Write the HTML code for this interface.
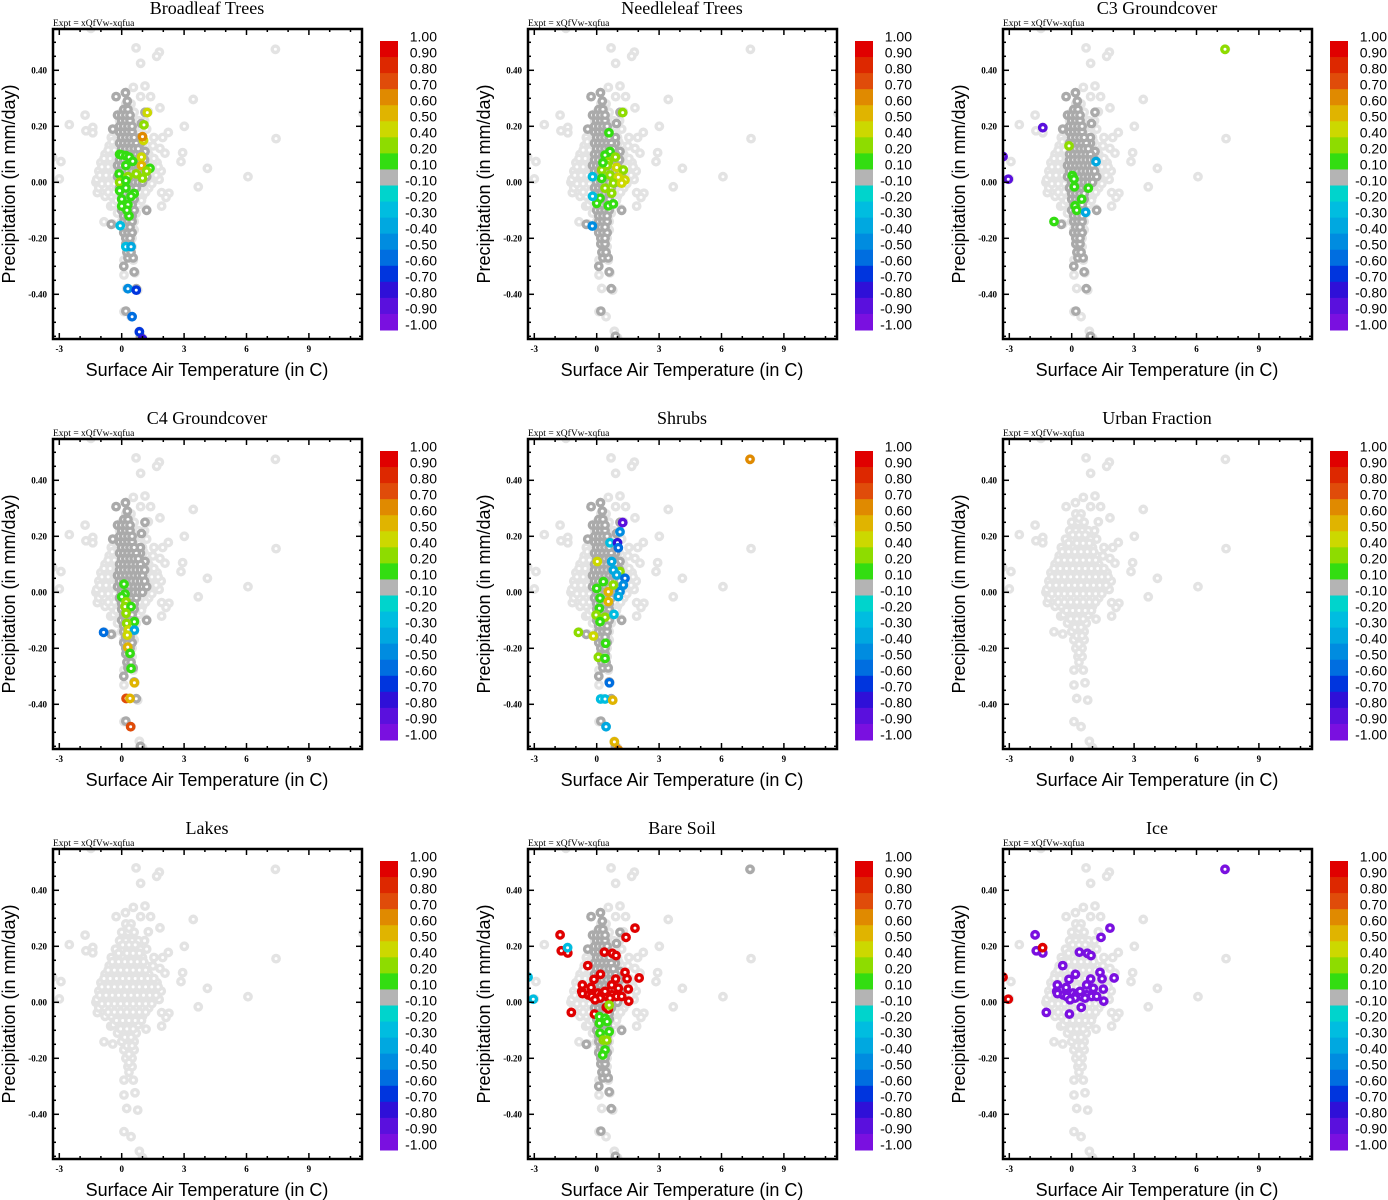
<!DOCTYPE html>
<html><head><meta charset="utf-8"><title>Vegetation fraction correlation scatter panels</title>
<style>
html,body{margin:0;padding:0;background:#fff;}
svg{display:block;}
.ttl{font-family:"Liberation Serif",serif;font-size:18px;}
.expt{font-family:"Liberation Serif",serif;font-size:9.5px;}
.tick{font-family:"Liberation Serif",serif;font-size:9px;font-weight:bold;}
.axt{font-family:"Liberation Sans",sans-serif;font-size:18px;}
.cbl{font-family:"Liberation Sans",sans-serif;font-size:14px;}
</style></head>
<body>
<svg id="fig" width="1388" height="1200" viewBox="0 0 1388 1200" xmlns="http://www.w3.org/2000/svg"></svg>
<script>
// ---- data ----
const panelTitles = ["Broadleaf Trees","Needleleaf Trees","C3 Groundcover","C4 Groundcover","Shrubs","Urban Fraction","Lakes","Bare Soil","Ice"];
const panelShowDark = [true,true,true,true,true,false,false,true,false];
const xTicks = [-3,0,3,6,9];
const yTicks = [0.40,0.20,0.00,-0.20,-0.40];
const cbLabels = [1.00,0.90,0.80,0.70,0.60,0.50,0.40,0.20,0.10,-0.10,-0.20,-0.30,-0.40,-0.50,-0.60,-0.70,-0.80,-0.90,-1.00];
const cbColors = ['#e00000','#dd2800','#e04c0a','#e08a00','#e0b400','#ccd800','#8edc00','#33dd11','#b4b4b4','#00d4cc','#00bde0','#00a8e0','#008ce0','#006ee0','#0035de','#2f10d8','#5a10dd','#7a10e0'];

// light-gray points (all grid cells) [temp, precip]
const lightPts = [
[0.69,0.48],[1.81,0.465],[1.68,0.45],[0.91,0.425],[7.39,0.475],[3.44,0.296],[1.12,0.344],[0.56,0.339],[0.18,0.32],[-0.27,0.306],[0.91,0.306],[1.39,0.306],
[-1.76,0.24],[-2.52,0.206],[-1.72,0.184],[-1.39,0.196],[-1.39,0.177],[3.01,0.2],[1.84,0.266],[1.28,0.252],[2.24,0.178],[1.97,0.16],[1.55,0.16],[1.84,0.121],
[2.08,0.104],[2.93,0.106],[2.85,0.074],[4.12,0.05],[6.07,0.02],[3.68,-0.016],[7.42,0.156],[-2.92,0.074],[-3.0,0.012],[-3.32,0.09],[1.92,-0.037],[2.27,-0.039],
[2.13,-0.054],[1.92,-0.085],[1.17,-0.096],[-0.53,-0.085],[-0.85,-0.141],[-0.43,-0.149],[-1.24,0.0],[-1.17,-0.037],[-0.88,0.074],[-1.04,0.038],[0.11,-0.278],
[0.56,-0.278],[0.64,-0.323],[0.11,-0.331],[0.24,-0.379],[0.77,-0.385],[0.11,-0.462],[0.45,-0.48],[0.85,-0.532],[1.0,-0.555],[-1.48,0.55],[11.6,0.247],
[0.2,0.28],[0.45,0.28],[0.0,0.25],[0.3,0.25],[0.6,0.25],[-0.1,0.22],[0.2,0.22],[0.5,0.22],[0.8,0.22],[1.1,0.22],
[-0.3,0.19],[0.0,0.19],[0.3,0.19],[0.6,0.19],[0.9,0.19],[1.2,0.19],[-0.5,0.16],[-0.2,0.16],[0.1,0.16],[0.4,0.16],[0.7,0.16],[1.0,0.16],
[-0.6,0.13],[-0.3,0.13],[0.0,0.13],[0.3,0.13],[0.6,0.13],[0.9,0.13],[1.2,0.13],[1.5,0.13],
[-0.8,0.10],[-0.5,0.10],[-0.2,0.10],[0.1,0.10],[0.4,0.10],[0.7,0.10],[1.0,0.10],[1.3,0.10],
[-1.0,0.07],[-0.7,0.07],[-0.4,0.07],[-0.1,0.07],[0.2,0.07],[0.5,0.07],[0.8,0.07],[1.1,0.07],[1.4,0.07],[1.7,0.07],
[-1.1,0.04],[-0.8,0.04],[-0.5,0.04],[-0.2,0.04],[0.1,0.04],[0.4,0.04],[0.7,0.04],[1.0,0.04],[1.3,0.04],[1.6,0.04],[1.9,0.04],
[-1.2,0.01],[-0.9,0.01],[-0.6,0.01],[-0.3,0.01],[0.0,0.01],[0.3,0.01],[0.6,0.01],[0.9,0.01],[1.2,0.01],[1.5,0.01],[1.8,0.01],
[-1.1,-0.02],[-0.8,-0.02],[-0.5,-0.02],[-0.2,-0.02],[0.1,-0.02],[0.4,-0.02],[0.7,-0.02],[1.0,-0.02],[1.3,-0.02],
[-0.8,-0.05],[-0.5,-0.05],[-0.2,-0.05],[0.1,-0.05],[0.4,-0.05],[0.7,-0.05],[1.0,-0.05],
[-0.4,-0.08],[-0.1,-0.08],[0.2,-0.08],[0.5,-0.08],[0.8,-0.08],[-0.2,-0.11],[0.1,-0.11],[0.4,-0.11],[0.7,-0.11],
[0.0,-0.14],[0.3,-0.14],[0.6,-0.14],[0.1,-0.17],[0.4,-0.17],[0.6,-0.17],[0.2,-0.20],[0.5,-0.20],[0.3,-0.23],[0.5,-0.23],[0.35,-0.25],
[0.35,0.265],[0.05,0.205],[0.35,0.205],[0.65,0.205],[-0.15,0.175],[0.25,0.175],[0.55,0.175],[0.85,0.175],[-0.45,0.145],[-0.15,0.145],[0.15,0.145],[0.45,0.145],[0.75,0.145],[1.05,0.145],
[-0.65,0.115],[-0.35,0.115],[-0.05,0.115],[0.25,0.115],[0.55,0.115],[0.85,0.115],[1.15,0.115],[-0.85,0.085],[-0.55,0.085],[-0.25,0.085],[0.05,0.085],[0.35,0.085],[0.65,0.085],[0.95,0.085],[1.25,0.085],[1.55,0.085],
[-0.95,0.055],[-0.65,0.055],[-0.35,0.055],[-0.05,0.055],[0.25,0.055],[0.55,0.055],[0.85,0.055],[1.15,0.055],[1.45,0.055],[1.75,0.055],
[-1.05,0.025],[-0.75,0.025],[-0.45,0.025],[-0.15,0.025],[0.15,0.025],[0.45,0.025],[0.75,0.025],[1.05,0.025],[1.35,0.025],[1.65,0.025],
[-0.95,-0.005],[-0.65,-0.005],[-0.35,-0.005],[-0.05,-0.005],[0.25,-0.005],[0.55,-0.005],[0.85,-0.005],[1.15,-0.005],[1.45,-0.005],
[-0.65,-0.035],[-0.35,-0.035],[-0.05,-0.035],[0.25,-0.035],[0.55,-0.035],[0.85,-0.035],[1.15,-0.035],
[-0.25,-0.065],[0.05,-0.065],[0.35,-0.065],[0.65,-0.065],[0.95,-0.065],[-0.05,-0.095],[0.25,-0.095],[0.55,-0.095],[0.15,-0.125],[0.45,-0.125],[0.25,-0.155],[0.5,-0.155],[0.35,-0.185],[0.35,-0.215]
];
// dark-gray points (|value| < 0.1) [temp, precip]
const darkPts = [
[0.18,0.32],[-0.27,0.306],[0.27,0.29],[1.12,0.25],[-0.2,0.24],[-0.43,0.19],[0.95,0.21],[0.9,0.14],[0.9,0.16],[1.12,0.11],[0.35,0.24],[1.08,0.03],
[-0.5,-0.15],[1.2,-0.1],[0.7,-0.38],[0.2,-0.46],[0.9,-0.55],[0.3,-0.27],[0.55,-0.27],[0.1,-0.3],[0.6,-0.32],
[0.1,0.26],[0.3,0.26],[0.0,0.22],[0.2,0.22],[0.4,0.22],[-0.1,0.18],[0.1,0.18],[0.3,0.18],[0.5,0.18],
[-0.1,0.14],[0.1,0.14],[0.3,0.14],[0.5,0.14],[0.7,0.14],[-0.1,0.10],[0.1,0.10],[0.3,0.10],[0.5,0.10],[0.7,0.10],[0.9,0.10],
[-0.2,0.06],[0.0,0.06],[0.2,0.06],[0.4,0.06],[0.6,0.06],[0.8,0.06],[1.0,0.06],
[-0.2,0.02],[0.0,0.02],[0.2,0.02],[0.4,0.02],[0.6,0.02],[0.8,0.02],[1.0,0.02],[1.2,0.02],
[-0.1,-0.02],[0.1,-0.02],[0.3,-0.02],[0.5,-0.02],[0.7,-0.02],[0.0,-0.06],[0.2,-0.06],[0.4,-0.06],[0.6,-0.06],
[0.0,-0.10],[0.2,-0.10],[0.4,-0.10],[0.6,-0.10],[0.1,-0.14],[0.3,-0.14],[0.5,-0.14],[0.1,-0.18],[0.3,-0.18],[0.5,-0.18],
[0.2,-0.22],[0.4,-0.22],[0.25,-0.25],[0.45,-0.25],
[0.0,0.24],[0.2,0.24],[0.4,0.24],[-0.1,0.20],[0.1,0.20],[0.3,0.20],[0.5,0.20],[0.0,0.16],[0.2,0.16],[0.4,0.16],[0.6,0.16],
[0.0,0.12],[0.2,0.12],[0.4,0.12],[0.6,0.12],[0.8,0.12],[-0.1,0.08],[0.1,0.08],[0.3,0.08],[0.5,0.08],[0.7,0.08],[0.9,0.08],[1.1,0.08],
[-0.1,0.04],[0.1,0.04],[0.3,0.04],[0.5,0.04],[0.7,0.04],[0.9,0.04],[1.1,0.04],[0.0,0.0],[0.2,0.0],[0.4,0.0],[0.6,0.0],[0.8,0.0],[1.0,0.0],
[0.0,-0.04],[0.2,-0.04],[0.4,-0.04],[0.6,-0.04],[0.1,-0.08],[0.3,-0.08],[0.5,-0.08],[0.1,-0.12],[0.3,-0.12],[0.5,-0.12],[0.2,-0.16],[0.4,-0.16],[0.2,-0.20],[0.4,-0.20]
];
// coloured points per panel [temp, precip, value]
const broadleafPts = [
[1.23,0.249,0.45],[1.07,0.205,0.3],[1.05,0.15,0.45],[1.0,0.163,0.65],[0.95,0.09,0.45],[0.95,0.06,0.55],[1.36,0.05,0.15],
[-0.1,0.1,0.15],[0.0,0.098,0.15],[0.2,0.095,0.15],[0.36,0.09,0.15],[0.53,0.075,0.15],[0.2,0.06,0.15],
[-0.12,0.03,0.15],[0.3,0.02,0.3],[0.7,0.03,0.3],[1.0,0.015,0.3],[1.2,0.04,0.3],[-0.1,0.0,0.3],[0.2,0.006,0.15],
[-0.1,-0.03,0.15],[0.2,-0.02,0.15],[0.6,-0.04,0.15],[0.0,-0.06,0.15],[0.45,-0.05,0.15],[0.0,-0.085,0.15],[0.3,-0.08,0.15],
[0.35,-0.12,0.15],[0.25,-0.10,0.15],
[-0.07,-0.155,-0.25],[0.2,-0.23,-0.25],[0.45,-0.23,-0.3],[0.3,-0.38,-0.45],[0.7,-0.385,-0.65],[0.5,-0.48,-0.55],[0.85,-0.534,-0.65],[1.0,-0.56,-0.75]
];
const needleleafPts = [
[1.25,0.249,0.3],[0.59,0.177,0.15],[0.64,0.11,0.15],[0.4,0.097,0.15],[0.56,0.073,0.3],[0.96,0.053,0.45],[1.28,0.044,0.3],[0.24,0.044,0.3],
[0.64,0.026,0.3],[1.04,0.018,0.45],[1.36,0.008,0.45],[0.24,0.014,0.15],[0.8,-0.003,0.3],[1.2,-0.003,0.45],[0.4,-0.021,0.3],[0.72,-0.039,0.3],
[0.16,-0.057,0.15],[0.0,-0.075,0.15],[0.56,-0.084,0.15],[0.8,-0.077,0.15],[0.5,0.06,0.3],[0.9,0.09,0.3],[0.3,0.07,0.15],
[-0.2,0.02,-0.25],[-0.2,-0.05,-0.25],[-0.21,-0.156,-0.45]
];
const c3Pts = [
[7.37,0.475,0.3],[-1.39,0.195,-0.85],[-3.3,0.092,-0.85],[-3.05,0.011,-0.85],[-0.13,0.13,0.3],[1.17,0.074,-0.3],
[0.03,0.024,0.15],[0.11,0.012,0.15],[0.13,-0.016,0.15],[0.8,-0.021,0.15],[0.48,-0.06,0.15],[0.16,-0.084,0.15],[0.24,-0.1,0.15],
[0.67,-0.107,-0.3],[-0.85,-0.14,0.15]
];
const c4Pts = [
[0.11,0.029,0.15],[0.16,-0.006,0.15],[0.0,-0.016,0.15],[0.21,-0.034,0.3],[0.16,-0.051,0.3],[0.45,-0.051,0.15],[0.21,-0.075,0.3],
[0.61,-0.105,0.15],[0.24,-0.111,0.3],[0.32,-0.135,0.45],[0.61,-0.135,-0.35],[-0.87,-0.143,-0.55],[0.27,-0.153,0.45],[0.29,-0.196,0.55],
[0.4,-0.218,0.15],[0.45,-0.272,0.15],[0.61,-0.323,0.55],[0.21,-0.379,0.75],[0.4,-0.379,0.55],[0.43,-0.48,0.75]
];
const shrubsPts = [
[7.37,0.475,0.65],[1.25,0.249,-0.85],[1.12,0.216,-0.45],[0.64,0.177,-0.25],[1.0,0.177,-0.75],[1.04,0.159,-0.55],[0.03,0.11,0.45],[0.72,0.11,-0.3],
[1.12,0.074,0.3],[0.8,0.079,-0.3],[0.96,0.062,-0.35],[1.36,0.05,-0.55],[1.28,0.026,-0.45],[1.12,0.003,-0.45],[1.04,-0.015,-0.35],
[0.32,0.038,0.15],[0.0,0.014,0.15],[0.56,0.002,0.55],[0.16,-0.021,0.15],[0.56,-0.033,0.55],[0.8,0.026,0.3],[0.13,-0.057,0.15],
[-0.03,-0.081,0.3],[0.4,-0.089,0.3],[0.16,-0.105,0.15],[0.83,-0.079,-0.25],[-0.88,-0.143,0.3],[-0.16,-0.156,0.45],[0.43,-0.182,0.15],
[0.08,-0.232,0.3],[0.4,-0.236,0.15],[0.61,-0.323,-0.55],[0.19,-0.381,-0.25],[0.4,-0.381,-0.25],[0.77,-0.385,0.55],[0.45,-0.48,-0.35],
[0.85,-0.534,0.55],[1.04,-0.563,0.65]
];
const urbanPts = [];
const lakesPts = [];
const bareSoilPts = [
[-1.76,0.241,0.95],[-1.7,0.184,0.95],[-1.39,0.176,0.95],[-1.4,0.195,-0.25],[-3.3,0.09,-0.25],[-3.05,0.011,-0.25],
[1.84,0.265,0.95],[1.41,0.232,0.95],[0.37,0.179,0.95],[0.75,0.175,0.95],[0.93,0.167,0.95],[-0.43,0.131,0.95],[1.36,0.107,0.95],
[2.04,0.087,0.95],[1.46,0.084,0.95],[0.18,0.1,0.95],[-0.13,0.082,0.95],[0.91,0.083,0.95],[-0.69,0.062,0.95],[0.72,0.062,0.95],
[-0.27,0.053,0.95],[1.04,0.05,0.95],[1.52,0.047,0.95],[-0.72,0.039,0.95],[-0.68,0.031,0.95],[-0.4,0.026,0.95],[-0.13,0.024,0.95],
[-0.11,-0.042,0.95],[-1.22,-0.036,0.95],[0.46,-0.018,0.95],[1.54,0.004,0.95],[0.06,0.033,0.95],[0.24,0.027,0.95],[0.48,0.021,0.95],
[0.72,0.027,0.95],[0.96,0.021,0.95],[0.16,0.015,0.95],[0.4,0.039,0.95],[0.64,0.015,0.95],[1.2,0.021,0.95],[-0.24,0.021,0.95],
[-0.08,0.009,0.95],[0.56,-0.024,0.95],
[0.13,-0.051,0.15],[0.4,-0.057,0.15],[0.5,-0.069,0.15],[0.13,-0.075,0.15],[0.16,-0.11,0.15],[0.6,-0.105,0.15],[0.32,-0.135,0.3],
[0.48,-0.135,0.3],[0.4,-0.17,0.15],[0.29,-0.188,0.15],[0.6,-0.01,0.3]
];
const icePts = [
[7.37,0.475,-0.95],[-1.76,0.241,-0.95],[-1.7,0.184,-0.95],[-1.39,0.176,-0.95],[-1.4,0.195,0.95],[-3.3,0.09,0.95],[-3.05,0.011,0.95],
[1.84,0.265,-0.95],[1.41,0.232,-0.95],[0.37,0.179,-0.95],[0.75,0.175,-0.95],[0.93,0.167,-0.95],[-0.43,0.131,-0.95],[1.36,0.107,-0.95],
[2.04,0.087,-0.95],[1.46,0.084,-0.95],[0.18,0.1,-0.95],[-0.13,0.082,-0.95],[0.91,0.083,-0.95],[-0.69,0.062,-0.95],[0.72,0.062,-0.95],
[-0.27,0.053,-0.95],[1.04,0.05,-0.95],[1.52,0.047,-0.95],[-0.72,0.039,-0.95],[-0.68,0.031,-0.95],[-0.4,0.026,-0.95],[-0.13,0.024,-0.95],
[-0.11,-0.042,-0.95],[-1.22,-0.036,-0.95],[0.46,-0.018,-0.95],[1.54,0.004,-0.95],[0.06,0.033,-0.95],[0.24,0.027,-0.95],[0.48,0.021,-0.95],
[0.72,0.027,-0.95],[0.96,0.021,-0.95],[0.16,0.015,-0.95],[0.4,0.039,-0.95],[0.64,0.015,-0.95],[1.2,0.021,-0.95],[-0.24,0.021,-0.95],
[-0.08,0.009,-0.95]
];
const panelPts = [broadleafPts,needleleafPts,c3Pts,c4Pts,shrubsPts,urbanPts,lakesPts,bareSoilPts,icePts];

// ---- drawing ----
const NS = "http://www.w3.org/2000/svg";
const fig = document.getElementById('fig');
const PL = 53, PR = 362, PT = 29, PB = 339;
const MR = 3.2, MW = 3.4;
function xS(t){ return 121.7 + 20.8*t; }
function yS(p){ return 182.3 - 280*p; }
function mk(tag, attrs, parent){
  const e = document.createElementNS(NS, tag);
  for (const k in attrs) e.setAttribute(k, attrs[k]);
  parent.appendChild(e); return e;
}
function colorFor(v){
  for (let i=0;i<cbColors.length;i++){ if (v<=cbLabels[i] && v>cbLabels[i+1]) return cbColors[i]; }
  return v>0 ? cbColors[0] : cbColors[cbColors.length-1];
}
function slug(s){ return s.toLowerCase().replace(/[^a-z0-9]+/g,'-'); }

panelTitles.forEach((title, idx) => {
  const c = idx % 3, r = Math.floor(idx/3);
  const g = mk('g', {transform:`translate(${475*c},${410*r})`}, fig);
  
  

  const tt = mk('text', {x:207, y:14, 'text-anchor':'middle', class:'ttl'}, g);
  tt.textContent = title;
  
  
  const ex = mk('text', {x:53, y:26, class:'expt'}, g);
  ex.textContent = 'Expt = xQfVw-xqfua';
  
  

  const cp = mk('clipPath', {id:'clip'+idx}, g);
  mk('rect', {x:PL, y:PT, width:PR-PL, height:PB-PT}, cp);
  const pts = mk('g', {'clip-path':`url(#clip${idx})`}, g);
  
  

  lightPts.forEach(d => {
    const e = mk('circle', {cx:xS(d[0]), cy:yS(d[1]), r:MR, fill:'#fff', stroke:'#e3e3e3', 'stroke-width':MW}, pts);
    
    
  });
  if (panelShowDark[idx]) darkPts.forEach(d => {
    const e = mk('circle', {cx:xS(d[0]), cy:yS(d[1]), r:MR, fill:'#fff', stroke:'#aaaaaa', 'stroke-width':MW}, pts);
    
    
  });
  if (idx===7) { const e = mk('circle', {cx:xS(7.37), cy:yS(0.475), r:MR, fill:'#fff', stroke:'#aaaaaa', 'stroke-width':MW}, pts);
    
     }
  panelPts[idx].forEach(d => {
    const e = mk('circle', {cx:xS(d[0]), cy:yS(d[1]), r:MR, fill:'#fff', stroke:colorFor(d[2]), 'stroke-width':MW}, pts);
    
    
  });

  const tk = mk('g', {stroke:'#000', 'stroke-width':1.5}, g);
  for (let t=-3; t<=11; t++){
    const x = xS(t), L = (t%3===0)?6:3;
    mk('line', {x1:x, y1:PB, x2:x, y2:PB-L}, tk);
    mk('line', {x1:x, y1:PT, x2:x, y2:PT+L}, tk);
  }
  for (let k=-11; k<=10; k++){
    const p = k*0.05, y = yS(p);
    if (y<PT+1 || y>PB-1) continue;
    const L = (k%4===0)?6:3;
    mk('line', {x1:PL, y1:y, x2:PL+L, y2:y}, tk);
    mk('line', {x1:PR, y1:y, x2:PR-L, y2:y}, tk);
  }
  const frame = mk('rect', {x:PL, y:PT, width:PR-PL, height:PB-PT, fill:'none', stroke:'#000', 'stroke-width':2.5}, g);
  
  

  xTicks.forEach(t => {
    const e = mk('text', {x:xS(t), y:352, 'text-anchor':'middle', class:'tick'}, g);
    e.textContent = String(t);
    
    
  });
  yTicks.forEach(p => {
    const e = mk('text', {x:47, y:yS(p)+3, 'text-anchor':'end', class:'tick'}, g);
    e.textContent = p.toFixed(2);
    
    
  });
  const xt = mk('text', {x:207, y:376, 'text-anchor':'middle', class:'axt'}, g);
  xt.textContent = 'Surface Air Temperature (in C)';
  
  
  const yt = mk('text', {x:0, y:0, 'text-anchor':'middle', class:'axt', transform:'translate(15,184) rotate(-90)'}, g);
  yt.textContent = 'Precipitation (in mm/day)';
  
  

  const cb = mk('g', {}, g);
  
  
  const bh = (330-41)/cbColors.length;
  cbColors.forEach((col,i) => {
    const e = mk('rect', {x:380, y:41+i*bh, width:18, height:bh+0.5, fill:col}, cb);
    
    
  });
  cbLabels.forEach((v,i) => {
    const e = mk('text', {x:437, y:36.7+i*16+5, 'text-anchor':'end', class:'cbl'}, cb);
    e.textContent = v.toFixed(2);
    
    
  });
});
</script>
</body></html>
